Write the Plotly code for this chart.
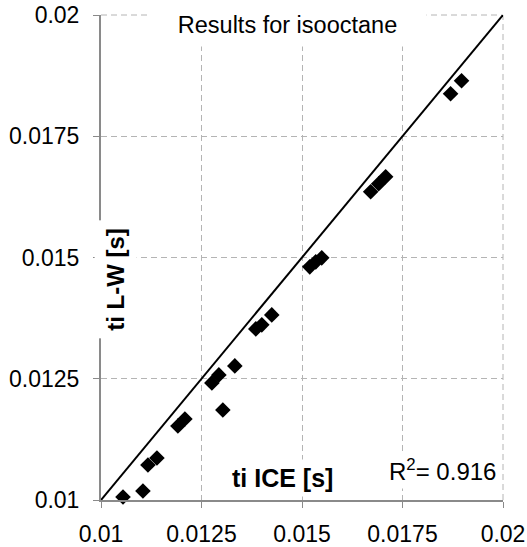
import plotly.graph_objects as go

# Ignition delay: ICE measurement vs Livengood-Wu prediction (isooctane)
ti_ice = [0.010547, 0.011043, 0.011168, 0.011391, 0.011913, 0.012087, 0.012758,
          0.012932, 0.013031, 0.013329, 0.013851, 0.014000, 0.014248, 0.015193,
          0.015342, 0.015491, 0.016708, 0.016907, 0.017081, 0.018696, 0.018969]
ti_lw = [0.010062, 0.010186, 0.010722, 0.010867, 0.011527, 0.011671, 0.012414,
         0.012579, 0.011857, 0.012765, 0.013528, 0.013611, 0.013817, 0.014807,
         0.014910, 0.014993, 0.016355, 0.016520, 0.016664, 0.018376, 0.018645]

diag = [0.01, 0.02]
tick_vals = [0.01, 0.0125, 0.015, 0.0175, 0.02]
tick_text = ["0.01", "0.0125", "0.015", "0.0175", "0.02"]
r2_text = "R<sup>2</sup>= 0.916"

FONT = "Liberation Sans, Arial, Helvetica, sans-serif"
AXIS_GRAY = "#8a8a8a"
GRID_GRAY = "#b4b4b4"
GRID_DASH = "6px,4px"

fig = go.Figure()

fig.add_trace(go.Scatter(
    x=diag, y=diag, mode="lines",
    line=dict(color="black", width=2),
    hoverinfo="skip", showlegend=False,
))

fig.add_trace(go.Scatter(
    x=ti_ice, y=ti_lw, mode="markers",
    marker=dict(symbol="diamond", size=12, color="black"),
    cliponaxis=False, showlegend=False,
))

axis_common = dict(
    range=[0.01, 0.02], automargin=False,
    tickmode="array", tickvals=tick_vals, ticktext=tick_text,
    showgrid=True, gridcolor=GRID_GRAY, gridwidth=1, griddash=GRID_DASH,
    showline=True, linecolor=AXIS_GRAY, linewidth=2,
    ticks="outside", ticklen=6, tickcolor=AXIS_GRAY, tickwidth=1,
    tickfont=dict(family=FONT, size=23, color="black"),
    zeroline=False,
)

fig.update_xaxes(**axis_common, ticklabelstandoff=6)
fig.update_yaxes(**axis_common, ticklabelstandoff=9)

# dashed frame along the top and right edges of the plot area
frame = dict(type="line", xref="paper", yref="paper", layer="below",
             line=dict(color=GRID_GRAY, width=1, dash=GRID_DASH))
fig.add_shape(x0=0, x1=1, y0=1, y1=1, **frame)
fig.add_shape(x0=1, x1=1, y0=0, y1=1, **frame)

fig.add_annotation(
    x=0.014646, y=0.0198, xref="x", yref="y",
    text="Results for isooctane", showarrow=False,
    font=dict(family=FONT, size=23.5, color="black"),
    bgcolor="white", width=275, height=40,
)
fig.add_annotation(
    x=0.010373, y=0.01456, xref="x", yref="y",
    text="<b>ti L-W [s]</b>", textangle=-90, showarrow=False,
    font=dict(family=FONT, size=24, color="black"),
    bgcolor="white", borderpad=7,
)
fig.add_annotation(
    x=0.014522, y=0.010454, xref="x", yref="y",
    text="<b>ti ICE [s]</b>", showarrow=False,
    font=dict(family=FONT, size=25, color="black"),
    bgcolor="white", borderpad=4,
)
fig.add_annotation(
    x=0.018497, y=0.010619, xref="x", yref="y",
    text=r2_text, showarrow=False,
    font=dict(family=FONT, size=24, color="black"),
    bgcolor="white", borderpad=3,
)

fig.update_layout(
    width=527, height=547,
    margin=dict(l=101, r=24, t=15, b=47),
    paper_bgcolor="white", plot_bgcolor="white",
    showlegend=False,
)

fig.write_html("out.html")
